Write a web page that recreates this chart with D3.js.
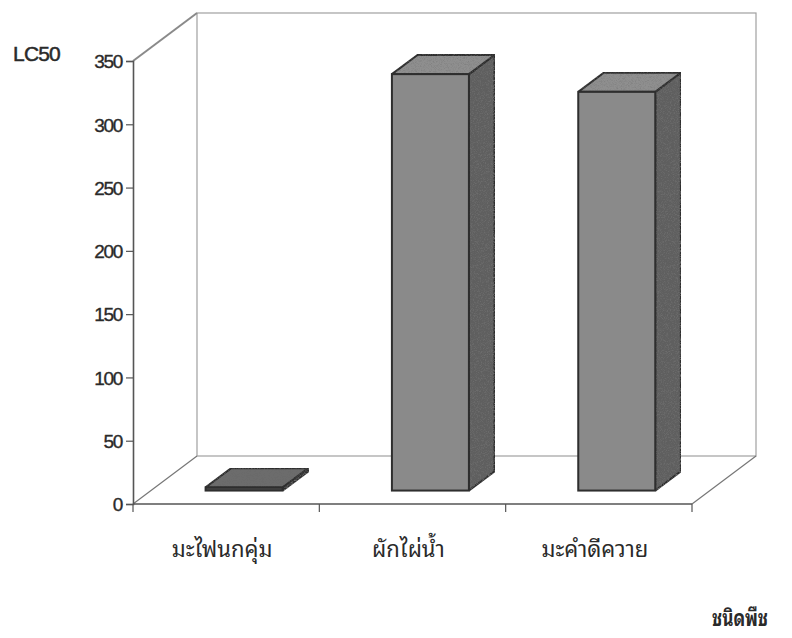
<!DOCTYPE html>
<html>
<head>
<meta charset="utf-8">
<script src="https://cdn.jsdelivr.net/npm/d3@7/dist/d3.min.js"></script>
<style>
  html, body { margin: 0; padding: 0; background: #fff; }
  svg { display: block; }
  .num { font-family: "Liberation Sans", Arial, sans-serif; fill: #2a2a2a; }
  .thai { font-family: "Noto Sans Thai Looped", "Noto Sans Thai", "Tahoma", "Noto Sans", sans-serif; fill: #2a2a2a; }
</style>
</head>
<body>
<svg id="chart" width="792" height="638"></svg>
<script>
// Plant species and their LC50 values
const categories = ["มะไฟนกคุ่ม", "ผักไผ่น้ำ", "มะคำดีควาย"];
const lc50 = [2.5, 329, 315];
const yTicks = [0, 50, 100, 150, 200, 250, 300, 350];
const yTitle = "LC50";
const xTitle = "ชนิดพืช";

const svg = d3.select("#chart");

// Front plane of the oblique 3-D box
const x0 = 133, x1 = 692;
const y0 = 504, yTop = 61;
// Depth offset of the back wall
const DX = 64, DY = -48;
// Bars sit between these fractions of the depth
const dFront = 0.28, dBack = 0.68;

const y = d3.scaleLinear().domain([0, 350]).range([y0, yTop]);
const x = d3.scaleBand().domain(categories).range([x0, x1]).padding(0);
const barW = 77;

// Grain for the shaded faces
const defs = svg.append("defs");
function grainFilter(id, strength, seed) {
  const f = defs.append("filter").attr("id", id)
    .attr("x", 0).attr("y", 0).attr("width", 1).attr("height", 1);
  f.append("feTurbulence").attr("type", "fractalNoise")
    .attr("baseFrequency", 1.3).attr("numOctaves", 2).attr("seed", seed).attr("result", "noise");
  f.append("feColorMatrix").attr("in", "noise").attr("type", "matrix")
    .attr("values", `0 0 0 0 0.15  0 0 0 0 0.15  0 0 0 0 0.15  ${strength} 0 0 0 ${-strength * 0.45}`)
    .attr("result", "dots");
  f.append("feComposite").attr("in", "dots").attr("in2", "SourceGraphic").attr("operator", "in").attr("result", "dotsIn");
  const m = f.append("feMerge");
  m.append("feMergeNode").attr("in", "SourceGraphic");
  m.append("feMergeNode").attr("in", "dotsIn");
}
grainFilter("grainSide", 3.2, 3);
grainFilter("grainTop", 1.2, 7);

const g = svg.append("g");

// Back wall
g.append("rect")
  .attr("x", x0 + DX).attr("y", yTop + DY)
  .attr("width", x1 - x0).attr("height", y0 - yTop)
  .attr("fill", "none").attr("stroke", "#a0a0a0").attr("stroke-width", 1.2);

// Left side wall: top diagonal
g.append("line")
  .attr("x1", x0).attr("y1", yTop).attr("x2", x0 + DX).attr("y2", yTop + DY)
  .attr("stroke", "#8a8a8a").attr("stroke-width", 2);

// Floor
g.append("path")
  .attr("d", `M${x0},${y0} L${x0 + DX},${y0 + DY} M${x1},${y0} L${x1 + DX},${y0 + DY}`)
  .attr("fill", "none").attr("stroke", "#777").attr("stroke-width", 1.2);

// Bars
const bars = g.selectAll(".bar").data(categories.map((c, i) => ({ c, v: lc50[i] })))
  .join("g").attr("class", "bar");

bars.each(function (d) {
  const b = d3.select(this);
  const cx = x(d.c) + x.bandwidth() / 2;
  const fx = dFront * DX, fy = dFront * DY;
  const bx = dBack * DX, by = dBack * DY;
  const L = cx - barW / 2 + fx, R = cx + barW / 2 + fx;
  const B = y(0) + fy, T = y(d.v) + fy;
  const sdx = bx - fx, sdy = by - fy;
  const slab = d.v < 10;
  // side face
  b.append("path")
    .attr("d", `M${R},${B} L${R + sdx},${B + sdy} L${R + sdx},${T + sdy} L${R},${T} Z`)
    .attr("fill", "#5e5e5e").attr("filter", "url(#grainSide)")
    .attr("stroke", "#2e2e2e").attr("stroke-width", 2).attr("stroke-linejoin", "round");
  // top face
  b.append("path")
    .attr("d", `M${L},${T} L${L + sdx},${T + sdy} L${R + sdx},${T + sdy} L${R},${T} Z`)
    .attr("fill", slab ? "#6c6c6c" : "#8f8f8f").attr("filter", "url(#grainTop)")
    .attr("stroke", "#2e2e2e").attr("stroke-width", 2).attr("stroke-linejoin", "round");
  // front face
  b.append("rect")
    .attr("x", L).attr("y", T).attr("width", R - L).attr("height", Math.max(B - T, 0.5))
    .attr("fill", slab ? "#4a4a4a" : "#8a8a8a")
    .attr("stroke", "#2e2e2e").attr("stroke-width", 2);
});

// Front floor edge / category axis
const xAxis = g.append("g");
xAxis.append("line")
  .attr("x1", x0).attr("y1", y0).attr("x2", x1).attr("y2", y0)
  .attr("stroke", "#555").attr("stroke-width", 1.4);
const catEdges = [x0].concat(categories.map(c => x(c) + x.bandwidth()));
xAxis.selectAll(".xt").data(catEdges).join("line")
  .attr("x1", d => d).attr("x2", d => d)
  .attr("y1", y0).attr("y2", y0 + 8)
  .attr("stroke", "#555").attr("stroke-width", 1.2);
xAxis.selectAll(".xl").data(categories).join("text")
  .attr("class", "thai")
  .attr("x", d => x(d) + x.bandwidth() / 2 - 4)
  .attr("y", 557)
  .attr("text-anchor", "middle")
  .attr("font-size", 22)
  .text(d => d);

// Value axis
const yAxis = d3.axisLeft(y).tickValues(yTicks).tickSize(7).tickPadding(4);
const ya = g.append("g").attr("transform", `translate(${x0},0)`).call(yAxis);
ya.select(".domain").attr("stroke", "#555").attr("stroke-width", 1.6);
ya.selectAll(".tick line").attr("stroke", "#555").attr("stroke-width", 1.2);
ya.selectAll(".tick text")
  .attr("class", "num")
  .attr("font-size", 19)
  .attr("letter-spacing", -1.3)
  .attr("stroke", "#2a2a2a").attr("stroke-width", 0.35)
  .attr("dy", "0.36em");

// Titles
svg.append("text").attr("class", "num")
  .attr("x", 13).attr("y", 61)
  .attr("font-size", 21).attr("letter-spacing", -0.8)
  .attr("stroke", "#2a2a2a").attr("stroke-width", 0.5)
  .text(yTitle);
svg.append("text").attr("class", "thai")
  .attr("x", 768).attr("y", 626)
  .attr("text-anchor", "end")
  .attr("font-size", 23).attr("font-weight", "bold")
  .attr("textLength", 56).attr("lengthAdjust", "spacingAndGlyphs")
  .attr("fill", "#1a1a1a")
  .text(xTitle);
</script>
</body>
</html>
